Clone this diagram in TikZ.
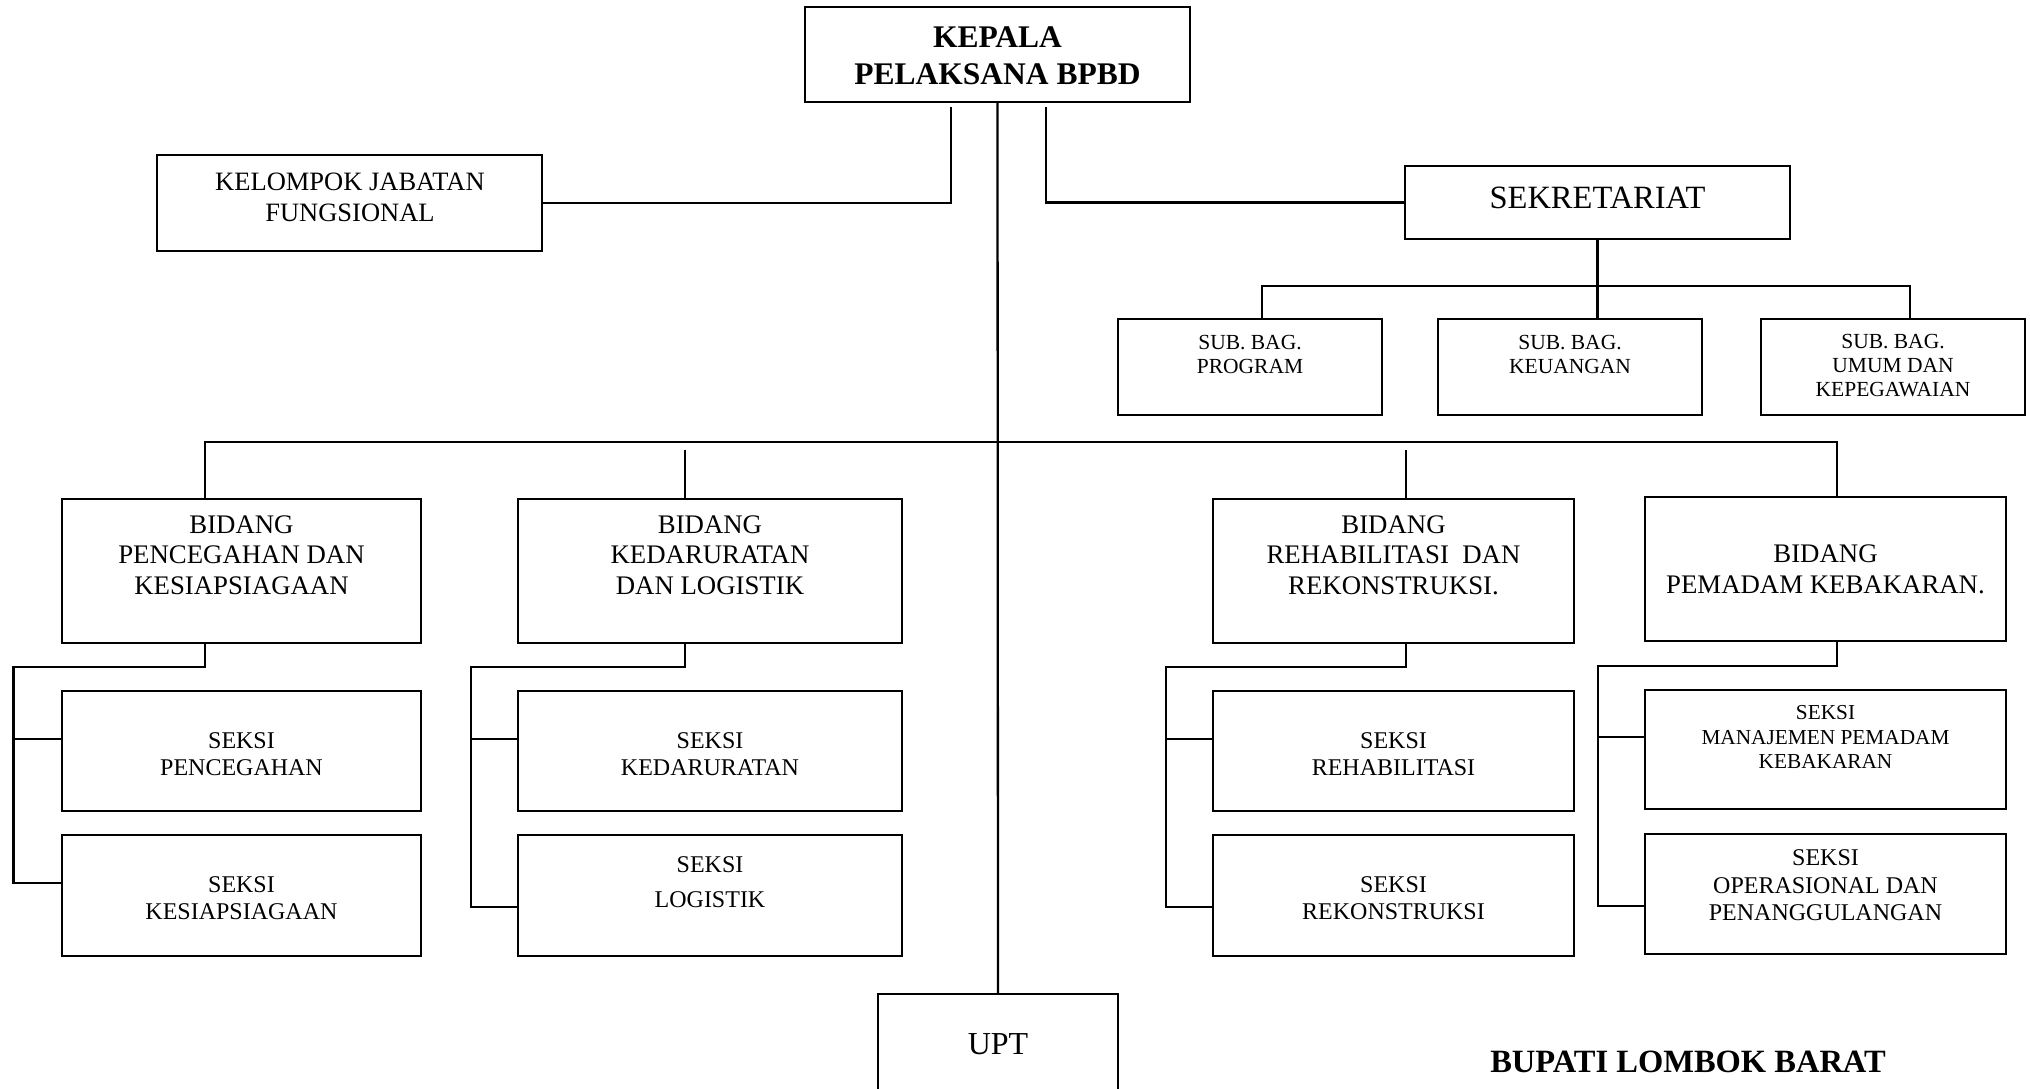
\documentclass[tikz,border=0pt]{standalone}
\usepackage{fontspec}
\setmainfont{Liberation Serif}
\newcommand\orgbox[5]{\node[box, minimum width={#4-#2}, minimum height={#5-#3}] (#1) at ({(#2+#4)/2},{(#3+#5)/2}) {};}
\tikzset{
  box/.style={draw, rectangle, line width=2.3pt, inner sep=0pt},
  conn/.style={line width=2.3pt},
  ttl/.style={align=center, inner sep=0pt, font=\bfseries\fontsize{31.5}{37}\selectfont},
  kel/.style={align=center, inner sep=0pt, font=\fontsize{26.5}{31}\selectfont},
  big/.style={align=center, inner sep=0pt, font=\fontsize{32.5}{36}\selectfont},
  sub/.style={align=center, inner sep=0pt, font=\fontsize{21.5}{24}\selectfont},
  bid/.style={align=center, inner sep=0pt, font=\fontsize{26.8}{30.5}\selectfont},
  sek/.style={align=center, inner sep=0pt, font=\fontsize{24}{27}\selectfont},
}
\begin{document}
\begin{tikzpicture}[x=1pt,y=-1pt]
\useasboundingbox (0,0) rectangle (2030,1089);
\clip (0,0) rectangle (2030,1089);
\fill[white] (0,0) rectangle (2030,1089);
% boxes
\orgbox{kep}{805}{7}{1190}{102}
\orgbox{kel}{157}{155}{542}{251}
\orgbox{sekr}{1405}{166}{1790}{239}
\orgbox{sb1}{1118}{319}{1382}{415}
\orgbox{sb2}{1438}{319}{1702}{415}
\orgbox{sb3}{1761}{319}{2025}{415}
\orgbox{b1}{62}{499}{421}{643}
\orgbox{b2}{518}{499}{902}{643}
\orgbox{b3}{1213}{499}{1574}{643}
\orgbox{b4}{1645}{497}{2006}{641}
\orgbox{s11}{62}{691}{421}{811}
\orgbox{s12}{62}{835}{421}{956}
\orgbox{s21}{518}{691}{902}{811}
\orgbox{s22}{518}{835}{902}{956}
\orgbox{s31}{1213}{691}{1574}{811}
\orgbox{s32}{1213}{835}{1574}{956}
\orgbox{s41}{1645}{690}{2006}{809}
\orgbox{s42}{1645}{834}{2006}{954}
\orgbox{upt}{878}{994}{1118}{1120}
% texts
\node[ttl] (kept) at (997.5,56) {KEPALA\\PELAKSANA BPBD};
\node[kel] (kelt) at (350,197) {KELOMPOK JABATAN\\FUNGSIONAL};
\node[big] (sekrt) at (1597.5,198) {SEKRETARIAT};
\node[sub] (sb1t) at (1250,354) {SUB. BAG.\\PROGRAM};
\node[sub] (sb2t) at (1570,354) {SUB. BAG.\\KEUANGAN};
\node[sub] (sb3t) at (1893,366) {SUB. BAG.\\UMUM DAN\\KEPEGAWAIAN};
\node[bid] (b1t) at (241.5,555) {BIDANG\\PENCEGAHAN DAN\\KESIAPSIAGAAN};
\node[bid] (b2t) at (710,555) {BIDANG\\KEDARURATAN\\DAN LOGISTIK};
\node[bid] (b3t) at (1393.5,555) {BIDANG\\REHABILITASI\ \ DAN\\REKONSTRUKSI.};
\node[bid] (b4t) at (1825.5,569.5) {BIDANG\\PEMADAM KEBAKARAN.};
\node[sek] (s11t) at (241.5,754) {SEKSI\\PENCEGAHAN};
\node[sek] (s12t) at (241.5,898) {SEKSI\\KESIAPSIAGAAN};
\node[sek] (s21t) at (710,754) {SEKSI\\KEDARURATAN};
\node[sek, font=\fontsize{24}{35}\selectfont] (s22t) at (710,882) {SEKSI\\LOGISTIK};
\node[sek] (s31t) at (1393.5,754) {SEKSI\\REHABILITASI};
\node[sek] (s32t) at (1393.5,898) {SEKSI\\REKONSTRUKSI};
\node[sub, font=\fontsize{21.3}{24.5}\selectfont] (s41t) at (1825.5,737) {SEKSI\\MANAJEMEN PEMADAM\\KEBAKARAN};
\node[sek, font=\fontsize{24}{27.5}\selectfont] (s42t) at (1825.5,885.5) {SEKSI\\OPERASIONAL DAN\\PENANGGULANGAN};
\node[big, font=\fontsize{32}{36}\selectfont] (uptt) at (998,1044) {UPT};
\node[ttl, font=\bfseries\fontsize{32.5}{36}\selectfont] (bup) at (1688,1062) {BUPATI LOMBOK BARAT};
% connectors
\draw[conn] (kep.south) -- (upt.north);
\draw[conn] ([xshift=-46.5pt,yshift=-4pt]kep.south) |- (kel.east);
\draw[conn] ([xshift=48.5pt,yshift=-4pt]kep.south) |- (sekr.west);
\draw[conn] (sekr.south) -- (sekr.south |- sb2.north);
\draw[conn] ([xshift=12pt]sb1.north) -- ++(0,-32) -| ([xshift=17pt]sb3.north);
\draw[conn] ([xshift=-36.5pt]b1.north) -- ++(0,-56) -| ([xshift=11.5pt]b4.north);
\draw[conn] ([xshift=-25pt]b2.north) -- ++(0,-48);
\draw[conn] ([xshift=12.5pt]b3.north) -- ++(0,-48);
% group 1
\draw[conn] ([xshift=-36.5pt]b1.south) -- ++(0,23) -- ++(-191.5,0) |- ([yshift=12.5pt]s12.west);
\draw[conn] ([yshift=12pt]s11.west) -- ++(-48.5,0);
% group 2
\draw[conn] ([xshift=-25pt]b2.south) -- ++(0,23) -- ++(-214,0) |- ([yshift=-11.5pt]s22.west);
\draw[conn] ([yshift=12pt]s21.west) -- ++(-47,0);
% group 3
\draw[conn] ([xshift=12.5pt]b3.south) -- ++(0,23) -- ++(-240,0) |- ([yshift=-11.5pt]s32.west);
\draw[conn] ([yshift=12pt]s31.west) -- ++(-47,0);
% group 4
\draw[conn] ([xshift=11.5pt]b4.south) -- ++(0,24) -- ++(-239,0) |- ([yshift=-12pt]s42.west);
\draw[conn] ([yshift=12.5pt]s41.west) -- ++(-47,0);
\end{tikzpicture}
\end{document}
